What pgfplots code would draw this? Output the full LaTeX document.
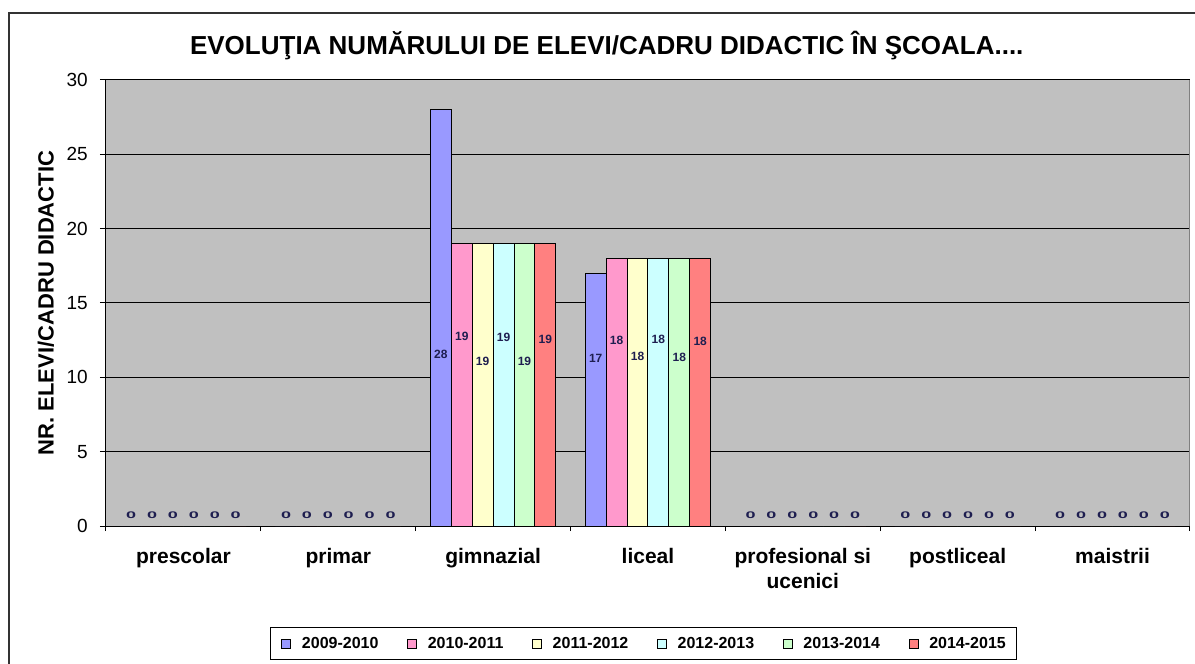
\documentclass[border=0pt]{standalone}
\usepackage{fontspec}
\setmainfont{Liberation Sans}
\usepackage{pgfplots}
\pgfplotsset{compat=1.18}
\definecolor{c1}{HTML}{9999FF}
\definecolor{c2}{HTML}{FF99CC}
\definecolor{c3}{HTML}{FFFFCC}
\definecolor{c4}{HTML}{CCFFFF}
\definecolor{c5}{HTML}{CCFFCC}
\definecolor{c6}{HTML}{FF8080}
\definecolor{plotbg}{HTML}{C0C0C0}
\definecolor{lbl}{HTML}{1E1E50}
\begin{document}
\begin{tikzpicture}[x=1pt,y=1pt]
\begin{axis}[
  at={(0,0)}, anchor=south west,
  scale only axis, width=1084pt, height=446pt,
  xmin=-0.5, xmax=6.5, ymin=0, ymax=30,
  xtick={0,...,6},
  xticklabels={prescolar, primar, gimnazial, liceal, {profesional si\\ucenici}, postliceal, maistrii},
  minor xtick={-0.5,0.5,...,6.5},
  ytick={0,5,...,30},
  tick pos=left,
  tick align=outside, major tick length=6pt, minor tick length=5pt,
  major x tick style={draw=none},
  every tick/.style={black, line width=1pt},
  ymajorgrids, grid style={black, line width=1pt},
  axis background/.style={fill=plotbg},
  axis line style={black, line width=1pt},
  xticklabel style={font=\fontsize{21}{25}\selectfont\bfseries, align=center, anchor=north, inner sep=0pt, yshift=-16pt},
  yticklabel style={font=\fontsize{19}{22}\selectfont, anchor=east, inner sep=0pt, xshift=-12pt},
  /pgf/number format/assume math mode=true,
  every axis y label/.style={at={(rel axis cs:0,0.5)}, xshift=-60pt, rotate=90, anchor=center, font=\fontsize{22}{25}\selectfont\bfseries},
  ylabel={NR. ELEVI/CADRU DIDACTIC},
  title={EVOLUŢIA NUMĂRULUI DE ELEVI/CADRU DIDACTIC ÎN ŞCOALA....},
  title style={at={(rel axis cs:0.462,1)}, anchor=center, yshift=28pt, font=\fontsize{26}{30}\selectfont\bfseries},
  legend columns=6,
  legend style={at={(0.4959,-0.2635)}, anchor=center, draw=black, line width=0.8pt,
    font=\fontsize{16}{19}\selectfont\bfseries, inner xsep=11pt, inner ysep=10pt,
    nodes={inner sep=0pt},
    /tikz/every odd column/.append style={column sep=11pt},
    /tikz/every even column/.append style={column sep=28.5pt}},
  legend image code/.code={\draw[#1, draw=black, line width=0.8pt] (0pt,-4.5pt) rectangle (9pt,4.5pt);},
  clip=false,
]
% bars
\addplot[ybar, bar width=0.135, bar shift=-0.3375, fill=c1, draw=black, line width=1pt]
  coordinates {(0,0) (1,0) (2,28) (3,17) (4,0) (5,0) (6,0)};
\addlegendentry{2009-2010}
\addplot[ybar, bar width=0.135, bar shift=-0.2025, fill=c2, draw=black, line width=1pt]
  coordinates {(0,0) (1,0) (2,19) (3,18) (4,0) (5,0) (6,0)};
\addlegendentry{2010-2011}
\addplot[ybar, bar width=0.135, bar shift=-0.0675, fill=c3, draw=black, line width=1pt]
  coordinates {(0,0) (1,0) (2,19) (3,18) (4,0) (5,0) (6,0)};
\addlegendentry{2011-2012}
\addplot[ybar, bar width=0.135, bar shift=0.0675, fill=c4, draw=black, line width=1pt]
  coordinates {(0,0) (1,0) (2,19) (3,18) (4,0) (5,0) (6,0)};
\addlegendentry{2012-2013}
\addplot[ybar, bar width=0.135, bar shift=0.2025, fill=c5, draw=black, line width=1pt]
  coordinates {(0,0) (1,0) (2,19) (3,18) (4,0) (5,0) (6,0)};
\addlegendentry{2013-2014}
\addplot[ybar, bar width=0.135, bar shift=0.3375, fill=c6, draw=black, line width=1pt]
  coordinates {(0,0) (1,0) (2,19) (3,18) (4,0) (5,0) (6,0)};
\addlegendentry{2014-2015}
% data labels of the non-zero bars
\addplot[forget plot, only marks, mark=*, mark size=0pt, mark options={draw=none, fill=none},
  nodes near coords, point meta=explicit symbolic,
  nodes near coords style={anchor=center, inner sep=0pt, text=lbl, font=\fontsize{12}{14}\selectfont\bfseries}]
  coordinates {
  (1.6625,11.57)[28] (1.7975,12.78)[19] (1.9325,11.10)[19] (2.0675,12.70)[19] (2.2025,11.10)[19] (2.3375,12.58)[19]
  (2.6625,11.30)[17] (2.7975,12.50)[18] (2.9325,11.43)[18] (3.0675,12.58)[18] (3.2025,11.37)[18] (3.3375,12.44)[18]
  };
% data labels of the zero bars
\addplot[forget plot, only marks, mark=*, mark size=0pt, mark options={draw=none, fill=none},
  nodes near coords, point meta=explicit symbolic,
  nodes near coords style={anchor=center, inner sep=0pt, yshift=11pt, xscale=1.5, yscale=0.8, text=lbl, font=\fontsize{12}{14}\selectfont\bfseries}]
  coordinates {
  (-0.3375,0)[0] (-0.2025,0)[0] (-0.0675,0)[0] (0.0675,0)[0] (0.2025,0)[0] (0.3375,0)[0]
  (0.6625,0)[0] (0.7975,0)[0] (0.9325,0)[0] (1.0675,0)[0] (1.2025,0)[0] (1.3375,0)[0]
  (3.6625,0)[0] (3.7975,0)[0] (3.9325,0)[0] (4.0675,0)[0] (4.2025,0)[0] (4.3375,0)[0]
  (4.6625,0)[0] (4.7975,0)[0] (4.9325,0)[0] (5.0675,0)[0] (5.2025,0)[0] (5.3375,0)[0]
  (5.6625,0)[0] (5.7975,0)[0] (5.9325,0)[0] (6.0675,0)[0] (6.2025,0)[0] (6.3375,0)[0]
  };
\draw[gray, line width=1pt] (rel axis cs:1,0) -- (rel axis cs:1,1);
\end{axis}
\draw[line width=1.5pt, black!80] (-97,-150) -- (-97,513) -- (1100,513);
\pgfresetboundingbox
\useasboundingbox (-106,-138) rectangle (1089,526);
\end{tikzpicture}
\end{document}
